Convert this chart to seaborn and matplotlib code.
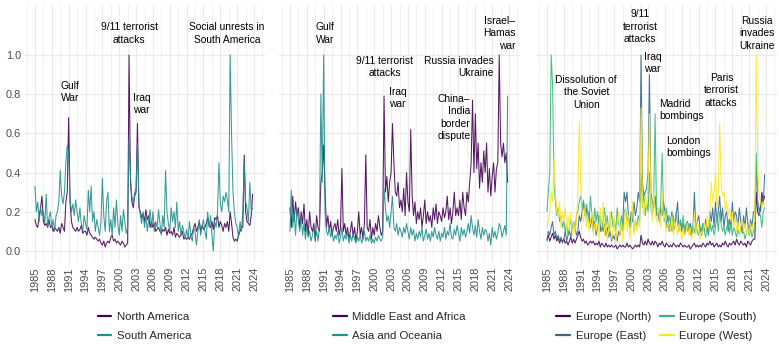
import numpy as np
import pandas as pd
import matplotlib
matplotlib.use("Agg")
import matplotlib.pyplot as plt
from matplotlib.lines import Line2D
import seaborn as sns

# quarterly readings, 1985 Q1 .. 2023 Q4
years = 1985 + np.arange(156) / 4

north_america = [
    .16, .13, .12, .18, .22, .28, .15, .13,
    .14, .12, .16, .12, .13, .10, .12, .11,
    .10, .12, .09, .14, .12, .10, .25, .30,
    .68, .25, .15, .12, .11, .10, .12, .10,
    .11, .13, .09, .10, .10, .08, .12, .09,
    .08, .07, .06, .07, .06, .05, .06, .04,
    .03, .05, .02, .04, .05, .04, .07, .08,
    .05, .06, .04, .05, .04, .03, .05, .04,
    .02, .03, .04, 1.0, .35, .25, .22, .28,
    .30, .65, .22, .20, .17, .19, .15, .21,
    .16, .18, .12, .15, .12, .14, .10, .11,
    .12, .10, .09, .11, .10, .12, .08, .11,
    .09, .10, .08, .12, .07, .09, .08, .07,
    .08, .10, .06, .07, .06, .07, .06, .08,
    .09, .12, .14, .10, .12, .15, .10, .13,
    .11, .12, .14, .17, .13, .12, .15, .11,
    .17, .16, .18, .12, .15, .13, .10, .14,
    .12, .15, .10, .20, .14, .07, .05, .06,
    .05, .08, .10, .12, .12, .49, .20, .15,
    .14, .13, .18, .29,
]
south_america = [
    .33, .20, .25, .15, .22, .18, .20, .14,
    .29, .12, .17, .20, .12, .16, .10, .18,
    .20, .25, .41, .28, .24, .30, .45, .54,
    .50, .26, .20, .24, .18, .26, .20, .15,
    .22, .14, .10, .18, .14, .11, .31, .20,
    .33, .15, .20, .10, .16, .12, .08, .15,
    .37, .18, .10, .25, .30, .10, .16, .08,
    .22, .12, .26, .14, .08, .18, .10, .21,
    .15, .09, .12, .57, .38, .28, .24, .30,
    .32, .55, .25, .18, .14, .20, .12, .18,
    .10, .16, .21, .12, .20, .10, .15, .12,
    .21, .14, .08, .18, .12, .41, .20, .14,
    .10, .22, .15, .20, .12, .25, .10, .15,
    .08, .13, .10, .06, .11, .06, .15, .08,
    .05, .12, .10, .03, .10, .16, .08, .13,
    .16, .10, .06, .20, .12, .18, .08, .00,
    .15, .12, .20, .45, .24, .20, .28, .25,
    .30, .26, .20, 1.0, .59, .30, .20, .14,
    .12, .07, .15, .10, .20, .45, .25, .22,
    .15, .35, .20, .22,
]
middle_east_africa = [
    .22, .12, .28, .15, .25, .18, .22, .12,
    .20, .14, .24, .10, .16, .08, .20, .12,
    .10, .14, .05, .18, .12, .10, .35, .40,
    .54, .30, .12, .18, .10, .15, .08, .12,
    .14, .10, .16, .08, .12, .42, .10, .14,
    .08, .12, .06, .10, .15, .07, .12, .05,
    .10, .20, .08, .12, .06, .14, .49, .12,
    .10, .16, .06, .12, .08, .14, .10, .18,
    .12, .08, .10, .79, .30, .38, .25, .35,
    .40, .65, .45, .30, .28, .35, .22, .26,
    .20, .32, .18, .40, .25, .20, .62, .28,
    .18, .25, .14, .20, .16, .22, .12, .18,
    .26, .14, .20, .15, .18, .12, .22, .16,
    .24, .14, .20, .18, .15, .22, .17, .20,
    .28, .16, .22, .14, .20, .30, .18, .22,
    .18, .26, .16, .30, .22, .18, .30, .25,
    .35, .45, .77, .40, .70, .42, .55, .32,
    .45, .35, .51, .40, .55, .30, .42, .28,
    .38, .45, .30, .42, .45, 1.0, .55, .48,
    .55, .45, .50, .35,
]
asia_oceania = [
    .10, .31, .12, .20, .08, .22, .15, .10,
    .18, .08, .14, .06, .12, .07, .10, .05,
    .08, .12, .06, .10, .05, .12, .80, .35,
    1.0, .20, .10, .08, .12, .07, .10, .05,
    .08, .06, .10, .04, .07, .12, .05, .08,
    .06, .10, .04, .08, .05, .09, .06, .04,
    .07, .05, .08, .04, .06, .10, .05, .07,
    .05, .08, .04, .06, .04, .07, .05, .08,
    .06, .05, .07, .32, .22, .15, .18, .12,
    .20, .28, .12, .10, .14, .08, .12, .10,
    .07, .12, .09, .14, .10, .06, .12, .08,
    .11, .05, .09, .06, .10, .07, .12, .05,
    .08, .11, .06, .09, .05, .10, .07, .12,
    .08, .06, .10, .05, .09, .07, .12, .06,
    .10, .08, .14, .07, .06, .11, .08, .13,
    .09, .05, .12, .08, .11, .07, .10, .14,
    .09, .18, .12, .08, .13, .07, .16, .10,
    .06, .12, .08, .11, .10, .05, .09, .03,
    .12, .07, .10, .06, .09, .14, .12, .07,
    .10, .13, .08, .79,
]
europe_north = [
    .06, .08, .05, .07, .09, .06, .08, .05,
    .07, .04, .06, .05, .06, .04, .05, .03,
    .05, .07, .04, .06, .04, .06, .08, .10,
    .07, .05, .06, .04, .05, .03, .04, .05,
    .04, .05, .03, .04, .03, .05, .02, .04,
    .03, .02, .04, .02, .03, .02, .03, .02,
    .02, .03, .01, .02, .03, .02, .03, .02,
    .02, .04, .02, .03, .02, .01, .02, .03,
    .02, .03, .02, .08, .04, .03, .05, .03,
    .06, .04, .03, .05, .03, .05, .04, .02,
    .04, .03, .05, .03, .02, .04, .03, .02,
    .03, .02, .04, .03, .02, .03, .02, .04,
    .03, .02, .03, .02, .02, .03, .01, .02,
    .03, .04, .02, .03, .02, .03, .02, .04,
    .03, .02, .04, .03, .05, .03, .04, .02,
    .03, .04, .02, .03, .02, .04, .03, .05,
    .03, .02, .04, .03, .04, .05, .03, .06,
    .04, .03, .05, .04, .03, .04, .02, .05,
    .04, .03, .05, .06, .06, .30, .20, .18,
    .22, .30, .25, .28,
]
europe_east = [
    .05, .10, .08, .12, .15, .08, .10, .06,
    .08, .05, .07, .04, .06, .10, .05, .08,
    .10, .07, .12, .15, .12, .08, .10, .18,
    .15, .20, .25, .18, .22, .15, .20, .12,
    .18, .10, .15, .08, .12, .18, .10, .15,
    .10, .14, .08, .12, .07, .10, .05, .08,
    .06, .09, .05, .10, .08, .12, .15, .30,
    .25, .30, .18, .12, .20, .15, .25, .18,
    .22, .30, .25, 1.0, .35, .28, .30, .32,
    .40, .90, .30, .25, .22, .28, .18, .20,
    .15, .22, .18, .25, .20, .12, .18, .10,
    .15, .20, .10, .12, .18, .25, .12, .15,
    .10, .14, .08, .12, .15, .10, .14, .08,
    .12, .30, .10, .15, .18, .12, .08, .14,
    .10, .16, .12, .08, .20, .15, .22, .12,
    .25, .15, .20, .28, .15, .22, .12, .18,
    .20, .10, .16, .12, .25, .15, .20, .18,
    .12, .22, .15, .10, .18, .12, .22, .14,
    .10, .16, .12, .20, .20, .45, .25, .22,
    .20, .28, .24, .39,
]
europe_south = [
    .20, .30, .40, 1.0, .85, .35, .25, .18,
    .22, .15, .18, .12, .15, .10, .14, .08,
    .12, .16, .10, .14, .10, .18, .20, .25,
    .28, .22, .26, .18, .24, .20, .15, .28,
    .18, .12, .22, .15, .20, .14, .18, .10,
    .15, .22, .12, .18, .10, .14, .20, .12,
    .16, .10, .22, .14, .12, .18, .10, .20,
    .22, .15, .18, .12, .14, .20, .10, .16,
    .12, .18, .15, .40, .22, .30, .18, .25,
    .20, .40, .22, .18, .25, .70, .20, .22,
    .18, .24, .50, .20, .15, .22, .12, .18,
    .14, .10, .18, .12, .20, .14, .10, .16,
    .12, .18, .10, .14, .10, .14, .08, .12,
    .13, .09, .15, .10, .08, .12, .10, .14,
    .10, .07, .12, .09, .15, .10, .13, .08,
    .12, .18, .10, .20, .14, .10, .12, .08,
    .12, .16, .09, .14, .08, .12, .10, .07,
    .11, .08, .12, .09, .10, .06, .09, .12,
    .08, .11, .07, .10, .12, .50, .25, .20,
    .18, .12, .20, .22,
]
europe_west = [
    .12, .15, .20, .30, .25, .48, .30, .20,
    .18, .25, .12, .20, .15, .22, .10, .18,
    .12, .20, .08, .15, .10, .15, .30, .66,
    .35, .20, .15, .22, .12, .18, .10, .15,
    .20, .08, .14, .10, .16, .06, .22, .12,
    .25, .08, .15, .05, .12, .20, .06, .10,
    .18, .04, .12, .20, .08, .15, .05, .12,
    .22, .10, .18, .06, .14, .25, .08, .16,
    .10, .15, .12, .73, .25, .18, .28, .22,
    .35, .70, .25, .15, .30, .20, .15, .22,
    .18, .12, .30, .15, .20, .10, .15, .12,
    .10, .18, .08, .15, .12, .08, .14, .10,
    .06, .12, .08, .10, .14, .08, .12, .06,
    .10, .20, .08, .15, .12, .06, .10, .08,
    .14, .10, .18, .12, .20, .35, .25, .30,
    .40, .22, .30, .65, .35, .28, .30, .20,
    .25, .18, .22, .15, .20, .12, .18, .10,
    .15, .08, .12, .16, .10, .14, .08, .12,
    .09, .14, .10, .15, .15, 1.0, .45, .30,
    .25, .22, .25, .24,
]

panels = [
    {
        "left": 24,
        "series": {"North America": north_america, "South America": south_america},
        "colors": ["#440154", "#21908C"],
        "ncol": 1,
        "notes": [
            (1991.2, 0.81, "Gulf\nWar", "center"),
            (2001.8, 1.11, "9/11 terrorist\nattacks", "center"),
            (2002.4, 0.75, "Iraq\nwar", "left"),
            (2019.2, 1.11, "Social unrests in\nSouth America", "center"),
        ],
    },
    {
        "left": 279,
        "series": {"Middle East and Africa": middle_east_africa,
                   "Asia and Oceania": asia_oceania},
        "colors": ["#440154", "#21908C"],
        "ncol": 1,
        "notes": [
            (1991.25, 1.11, "Gulf\nWar", "center"),
            (2001.85, 0.94, "9/11 terrorist\nattacks", "center"),
            (2002.55, 0.78, "Iraq\nwar", "left"),
            (2021.3, 0.94, "Russia invades\nUkraine", "right"),
            (2017.1, 0.68, "China–\nIndia\nborder\ndispute", "right"),
            (2025.1, 1.11, "Israel–\nHamas\nwar", "right"),
        ],
    },
    {
        "left": 536,
        "series": {"Europe (North)": europe_north, "Europe (East)": europe_east,
                   "Europe (South)": europe_south, "Europe (West)": europe_west},
        "colors": ["#440154", "#31688E", "#35B779", "#FDE725"],
        "ncol": 2,
        "notes": [
            (2001.6, 1.145, "9/11\nterrorist\nattacks", "center"),
            (2002.3, 0.96, "Iraq\nwar", "left"),
            (1992.0, 0.81, "Dissolution of\nthe Soviet\nUnion", "center"),
            (2005.0, 0.72, "Madrid\nbombings", "left"),
            (2006.3, 0.53, "London\nbombings", "left"),
            (2016.05, 0.82, "Paris\nterrorist\nattacks", "center"),
            (2022.4, 1.11, "Russia\ninvades\nUkraine", "center"),
        ],
    },
]

sns.set_theme(style="white")
plt.rcParams["font.family"] = ["Liberation Sans", "DejaVu Sans"]

W, H = 779, 352
fig = plt.figure(figsize=(W / 100, H / 100), dpi=100)

major = np.arange(1985, 2025, 3)
minor = np.arange(1983.5, 2026, 3)

for i, p in enumerate(panels):
    ax = fig.add_axes([p["left"] / W, (H - 261.5) / H, 241 / W, 256.5 / H])
    names = list(p["series"].keys())
    df = pd.DataFrame({
        "year": np.tile(years, len(names)),
        "value": np.concatenate([p["series"][n] for n in names]),
        "region": np.repeat(names, len(years)),
    })
    sns.lineplot(data=df, x="year", y="value", hue="region", hue_order=names,
                 palette=p["colors"], estimator=None, linewidth=0.75, alpha=0.9,
                 legend=False, ax=ax)

    for x, y, s, ha in p["notes"]:
        ax.text(x, y, s, ha=ha, va="center", multialignment=ha,
                fontsize=7.4, linespacing=1.3, color="black")

    ax.set_xlim(1985 - 1.95, 2024 + 1.95)
    ax.set_ylim(-0.054, 1.255)
    ax.set_xticks(major)
    ax.set_xticks(minor, minor=True)
    ax.set_xticklabels([str(y) for y in major], rotation=90)
    ax.set_yticks(np.arange(0, 1.01, 0.2))
    ax.set_yticklabels([f"{v:.1f}" for v in np.arange(0, 1.01, 0.2)])
    ax.grid(which="major", color="#EBEBEB", linewidth=0.9)
    ax.grid(which="minor", axis="x", color="#EBEBEB", linewidth=0.5)
    ax.set_axisbelow(True)
    ax.tick_params(which="both", length=0, labelsize=7.9, labelcolor="#4D4D4D")
    ax.tick_params(axis="x", pad=4)
    ax.tick_params(axis="y", pad=2, labelleft=(i == 0))
    ax.set_xlabel("")
    ax.set_ylabel("")
    for sp in ax.spines.values():
        sp.set_visible(False)

    handles = [Line2D([], [], color=c, lw=1.6) for c in p["colors"]]
    ax.legend(handles, names, loc="center", bbox_to_anchor=(0.5, -0.253),
              ncol=p["ncol"], frameon=False, fontsize=8.2, handlelength=1.2,
              handletextpad=0.5, labelspacing=0.75, columnspacing=0.8,
              borderaxespad=0)

fig.savefig("out.png", dpi=100)
